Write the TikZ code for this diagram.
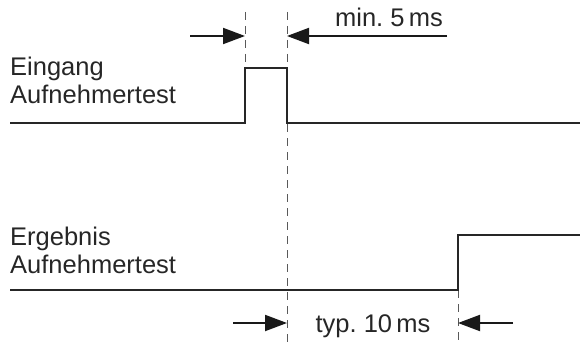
\documentclass[tikz,border=0pt]{standalone}
\usepackage{fontspec}
\setmainfont{Liberation Sans}
\usetikzlibrary{arrows.meta}

\tikzset{
  signal/.style={line width=2.2pt, draw=black!85},
  guide/.style={line width=1pt, draw=black!65, dash pattern=on 8pt off 6pt},
  span/.style={line width=2pt, draw=black!90, -{Triangle[length=22pt,width=16pt]}},
  lbl/.style={anchor=base west, inner sep=0pt, text=black!85, font=\fontsize{25.5}{29}\selectfont},
}

\begin{document}
\begin{tikzpicture}[x=1pt,y=-1pt]
  \useasboundingbox (0,0) rectangle (580,345);

  % input signal (Eingang)
  \coordinate (a0) at (10,123);
  \coordinate (a1) at (245,123);
  \coordinate (a2) at (245,68);
  \coordinate (a3) at (287,68);
  \coordinate (a4) at (287,123);
  \coordinate (a5) at (580,123);

  % result signal (Ergebnis)
  \coordinate (b0) at (10,290);
  \coordinate (b1) at (458,290);
  \coordinate (b2) at (458,235);
  \coordinate (b3) at (580,235);

  % guide line ends
  \coordinate (g1) at (245,12);
  \coordinate (g2) at (287,12);
  \coordinate (g3) at (287,345);
  \coordinate (g4) at (458,345);

  % arrow tails
  \coordinate (m1) at (190,36);
  \coordinate (m2) at (447,36);
  \coordinate (m3) at (245,36);
  \coordinate (m4) at (287,36);
  \coordinate (n1) at (233,323);
  \coordinate (n2) at (513,323);
  \coordinate (n3) at (287,323);
  \coordinate (n4) at (458,323);

  % labels
  \node [lbl](ein) at (10,75) {Eingang};
  \node [lbl](ein2) at (10,103) {Aufnehmertest};
  \node [lbl](erg) at (10,245) {Ergebnis};
  \node [lbl](erg2) at (10,273) {Aufnehmertest};
  \node [lbl, anchor=base](min) at (389,27) {min.\ 5\,ms};
  \node [lbl, anchor=base](typ) at (373,332) {typ.\ 10\,ms};

  \draw [guide] (g1) -- (a2);
  \draw [guide] (g2) -- (g3);
  \draw [guide] (b1) -- (g4);

  \draw [signal] (a0) -- (a1) -- (a2) -- (a3) -- (a4) -- (a5);
  \draw [signal] (b0) -- (b1) -- (b2) -- (b3);

  \draw [span] (m1) -- (m3);
  \draw [span] (m2) -- (m4);
  \draw [span] (n1) -- (n3);
  \draw [span] (n2) -- (n4);
\end{tikzpicture}
\end{document}
